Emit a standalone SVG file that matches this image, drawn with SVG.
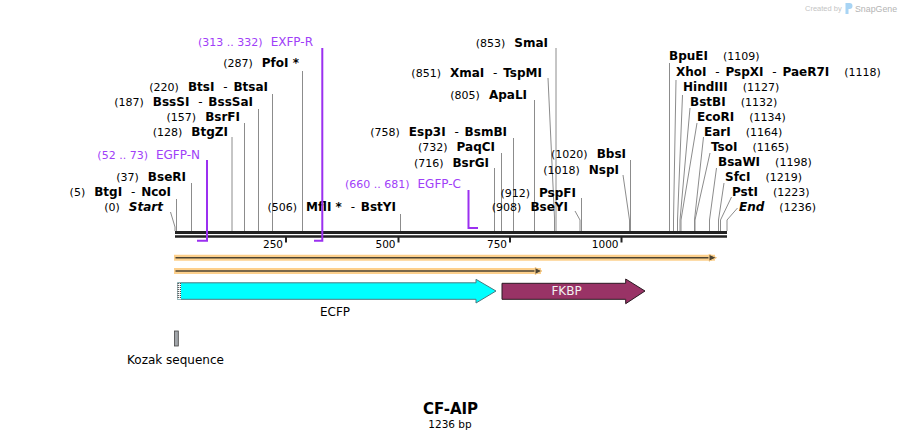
<svg xmlns="http://www.w3.org/2000/svg" width="902" height="441" viewBox="0 0 902 441">
<style>
text{font-family:"DejaVu Sans",Verdana,sans-serif;fill:#000}
.p{font-size:11px;font-weight:normal}
.n{font-size:12px;font-weight:bold}
.h{font-weight:normal}
.i{font-style:italic}
.pr{fill:#a040f8}
.prl{stroke:#9b30f0;stroke-width:2;fill:none}
.cl{stroke:#8c8c8c;stroke-width:1;fill:none}
.tk{font-size:10.5px;text-anchor:end}
.orb{stroke:#fdd08c;stroke-width:6;fill:none;stroke-linecap:square}
.ord{stroke:#4d4433;stroke-width:1.6;fill:none}
</style>
<rect width="902" height="441" fill="#fff"/>

<g id="watermark">
<text x="805" y="11" style="font-family:'Liberation Sans',Arial,sans-serif;font-size:7.5px;fill:#c4c4c4">Created by</text>
<path d="M845.5,3 h4 q3,0 3,3 q0,3 -3,3 h-1 v5 h-3 z" fill="#a8d4f4"/>
<text x="855" y="12" style="font-family:'Liberation Sans',Arial,sans-serif;font-size:8.8px;fill:#b4b4b4">SnapGene</text>
</g>

<g id="connectors">
<path class="cl" d="M170.5,212 L175,227 V231"/>
<path class="cl" d="M176.5,199 V231"/>
<path class="cl" d="M191.5,183 V231"/>
<path class="cl" d="M232,137 V231"/>
<path class="cl" d="M244.5,123 V231"/>
<path class="cl" d="M258.5,109 V231"/>
<path class="cl" d="M272.5,94 V231"/>
<path class="cl" d="M302.5,71 V231"/>
<path class="cl" d="M400.5,214 V231"/>
<path class="cl" d="M494.5,168 V231"/>
<path class="cl" d="M501.5,153 V231"/>
<path class="cl" d="M513.5,138 V231"/>
<path class="cl" d="M534.5,100 V231"/>
<path class="cl" d="M548,78 L554.5,218 V231"/>
<path class="cl" d="M556,48 V231"/>
<path class="cl" d="M581.5,198 V231"/>
<path class="cl" d="M575,211 L580,220 V231"/>
<path class="cl" d="M623,175 L629.5,220 V231"/>
<path class="cl" d="M630.5,160 V231"/>
<path class="cl" d="M669.5,63 V231"/>
<path class="cl" d="M676,80 L673.5,220 V231"/>
<path class="cl" d="M682.5,95 L677.5,220 V231"/>
<path class="cl" d="M690,108 L680,220 V231"/>
<path class="cl" d="M697,123 L681,220 V231"/>
<path class="cl" d="M703.5,137 L694.5,220 V231"/>
<path class="cl" d="M710,153 L695,220 V231"/>
<path class="cl" d="M716.5,168 L709.5,220 V231"/>
<path class="cl" d="M724,183 L718.5,220 V231"/>
<path class="cl" d="M731.5,197 L720.5,220 V231"/>
<path class="cl" d="M737.5,208 L727,220 V231"/>
</g>

<g id="backbone">
<line x1="175" y1="232.6" x2="727" y2="232.6" stroke="#222" stroke-width="3"/>
<line x1="175" y1="236.5" x2="727" y2="236.5" stroke="#222" stroke-width="2.4"/>
<path d="M286,236 V242.5 M398.5,236 V242.5 M510,236 V242.5 M621.5,236 V242.5" stroke="#222" stroke-width="2"/>
<text class="tk" x="283" y="248">250</text>
<text class="tk" x="395.5" y="248">500</text>
<text class="tk" x="507" y="248">750</text>
<text class="tk" x="618.5" y="248">1000</text>
</g>

<g id="site-start"><text x="163" y="211" text-anchor="end"><tspan class="p">(0)</tspan><tspan class="n i" dx="9">Start</tspan></text></g>
<g id="site-btgi"><text x="171" y="196" text-anchor="end"><tspan class="p">(5)</tspan><tspan class="n" dx="9">BtgI<tspan class="h" dx="5"> -<tspan dx="2"> </tspan></tspan>NcoI</tspan></text></g>
<g id="site-bseri"><text x="186" y="181" text-anchor="end"><tspan class="p">(37)</tspan><tspan class="n" dx="9">BseRI</tspan></text></g>
<g id="site-btgzi"><text x="228" y="136" text-anchor="end"><tspan class="p">(128)</tspan><tspan class="n" dx="9">BtgZI</tspan></text></g>
<g id="site-bsrfi"><text x="240" y="121" text-anchor="end"><tspan class="p">(157)</tspan><tspan class="n" dx="9">BsrFI</tspan></text></g>
<g id="site-bsssi"><text x="253" y="106" text-anchor="end"><tspan class="p">(187)</tspan><tspan class="n" dx="9">BssSI<tspan class="h" dx="5"> -<tspan dx="2"> </tspan></tspan>BssSaI</tspan></text></g>
<g id="site-btsi"><text x="268" y="91" text-anchor="end"><tspan class="p">(220)</tspan><tspan class="n" dx="9">BtsI<tspan class="h" dx="5"> -<tspan dx="2"> </tspan></tspan>BtsaI</tspan></text></g>
<g id="site-pfoi"><text x="299" y="67" text-anchor="end"><tspan class="p">(287)</tspan><tspan class="n" dx="9">PfoI *</tspan></text></g>
<g id="site-mfli"><text x="396" y="211" text-anchor="end"><tspan class="p">(506)</tspan><tspan class="n" dx="9">MflI *<tspan class="h" dx="5"> -<tspan dx="2"> </tspan></tspan>BstYI</tspan></text></g>
<g id="site-bsrgi"><text x="489" y="166.5" text-anchor="end"><tspan class="p">(716)</tspan><tspan class="n" dx="9">BsrGI</tspan></text></g>
<g id="site-paqci"><text x="495" y="151" text-anchor="end"><tspan class="p">(732)</tspan><tspan class="n" dx="9">PaqCI</tspan></text></g>
<g id="site-esp3i"><text x="507" y="136" text-anchor="end"><tspan class="p">(758)</tspan><tspan class="n" dx="9">Esp3I<tspan class="h" dx="5"> -<tspan dx="2"> </tspan></tspan>BsmBI</tspan></text></g>
<g id="site-apali"><text x="527" y="99" text-anchor="end"><tspan class="p">(805)</tspan><tspan class="n" dx="9">ApaLI</tspan></text></g>
<g id="site-xmai"><text x="542" y="77" text-anchor="end"><tspan class="p">(851)</tspan><tspan class="n" dx="9">XmaI<tspan class="h" dx="5"> -<tspan dx="2"> </tspan></tspan>TspMI</tspan></text></g>
<g id="site-smai"><text x="548" y="47" text-anchor="end"><tspan class="p">(853)</tspan><tspan class="n" dx="9">SmaI</tspan></text></g>
<g id="site-pspfi"><text x="576" y="196.5" text-anchor="end"><tspan class="p">(912)</tspan><tspan class="n" dx="9">PspFI</tspan></text></g>
<g id="site-bseyi"><text x="568" y="211" text-anchor="end"><tspan class="p">(908)</tspan><tspan class="n" dx="9">BseYI</tspan></text></g>
<g id="site-nspi"><text x="619" y="173.5" text-anchor="end"><tspan class="p">(1018)</tspan><tspan class="n" dx="9">NspI</tspan></text></g>
<g id="site-bbsi"><text x="626" y="158" text-anchor="end"><tspan class="p">(1020)</tspan><tspan class="n" dx="9">BbsI</tspan></text></g>

<g id="site-bpuei"><text x="669" y="60"><tspan class="n">BpuEI</tspan><tspan class="p" dx="15">(1109)</tspan></text></g>
<g id="site-xhoi"><text x="676" y="76"><tspan class="n">XhoI<tspan class="h" dx="5"> -<tspan dx="2"> </tspan></tspan>PspXI<tspan class="h" dx="5"> -<tspan dx="2"> </tspan></tspan>PaeR7I</tspan><tspan class="p" dx="15">(1118)</tspan></text></g>
<g id="site-hindiii"><text x="683" y="91"><tspan class="n">HindIII</tspan><tspan class="p" dx="15">(1127)</tspan></text></g>
<g id="site-bstbi"><text x="690" y="106"><tspan class="n">BstBI</tspan><tspan class="p" dx="15">(1132)</tspan></text></g>
<g id="site-ecori"><text x="697" y="121"><tspan class="n">EcoRI</tspan><tspan class="p" dx="15">(1134)</tspan></text></g>
<g id="site-eari"><text x="704" y="136"><tspan class="n">EarI</tspan><tspan class="p" dx="15">(1164)</tspan></text></g>
<g id="site-tsoi"><text x="711" y="151"><tspan class="n">TsoI</tspan><tspan class="p" dx="15">(1165)</tspan></text></g>
<g id="site-bsawi"><text x="718" y="166"><tspan class="n">BsaWI</tspan><tspan class="p" dx="15">(1198)</tspan></text></g>
<g id="site-sfci"><text x="725" y="181"><tspan class="n">SfcI</tspan><tspan class="p" dx="15">(1219)</tspan></text></g>
<g id="site-psti"><text x="732" y="196"><tspan class="n">PstI</tspan><tspan class="p" dx="15">(1223)</tspan></text></g>
<g id="site-end"><text x="739" y="211"><tspan class="n i">End</tspan><tspan class="p" dx="15">(1236)</tspan></text></g>

<g id="primer-exfp-r">
<path class="prl" d="M322.3,48 V240.7 H314"/>
<text x="313" y="46" text-anchor="end" class="pr"><tspan class="p pr">(313 .. 332)</tspan><tspan dx="8" style="font-size:12px" class="pr">EXFP-R</tspan></text>
</g>
<g id="primer-egfp-n">
<path class="prl" d="M207,160 V240.7 H197"/>
<text x="200" y="158.5" text-anchor="end" class="pr"><tspan class="p pr">(52 .. 73)</tspan><tspan dx="8" style="font-size:12px" class="pr">EGFP-N</tspan></text>
</g>
<g id="primer-egfp-c">
<path class="prl" d="M468.5,190 V228 H478"/>
<text x="461" y="188" text-anchor="end" class="pr"><tspan class="p pr">(660 .. 681)</tspan><tspan dx="8" style="font-size:12px" class="pr">EGFP-C</tspan></text>
</g>

<g id="feature-orange-1">
<path class="orb" d="M177,257.7 H712"/>
<path class="ord" d="M175.5,257.7 H711"/>
<path d="M709,254.2 L716.5,257.7 L709,261.2 Z" fill="#4d4433" stroke="#fdd08c" stroke-width="1"/>
</g>
<g id="feature-orange-2">
<path class="orb" d="M177,271 H538"/>
<path class="ord" d="M175.5,271 H536"/>
<path d="M535,267.5 L542,271 L535,274.5 Z" fill="#4d4433" stroke="#fdd08c" stroke-width="1"/>
</g>

<g id="feature-ecfp">
<path d="M177.5,282.8 H476 V279.3 L496,291 L476,303 V299.3 H177.5 Z" fill="#00ffff" stroke="#4a7a80" stroke-width="1"/>
<rect x="177.5" y="282.8" width="3.5" height="16.5" fill="#fff"/>
<path d="M178.2,283 V299 M180.3,283 V299" stroke="#000" stroke-width="0.9" stroke-dasharray="1,1"/>
<text x="335" y="316" text-anchor="middle" style="font-size:12px">ECFP</text>
</g>

<g id="feature-fkbp">
<path d="M502,283.3 H625.7 V279 L645,291 L625.7,303.7 V299.3 H502 Z" fill="#993366" stroke="#2b1a22" stroke-width="1"/>
<text x="566.5" y="295" text-anchor="middle" style="font-size:12px;fill:#f2f2f2">FKBP</text>
</g>

<g id="feature-kozak">
<rect x="174.5" y="331" width="3.8" height="15" fill="#a2a6aa" stroke="#444" stroke-width="0.8"/>
<text x="175.5" y="363.5" text-anchor="middle" style="font-size:12px">Kozak sequence</text>
</g>

<g id="title">
<text x="450.5" y="413.5" text-anchor="middle" style="font-size:15px;font-weight:bold">CF-AIP</text>
<text x="450" y="427.5" text-anchor="middle" style="font-size:10.5px">1236 bp</text>
</g>
</svg>
